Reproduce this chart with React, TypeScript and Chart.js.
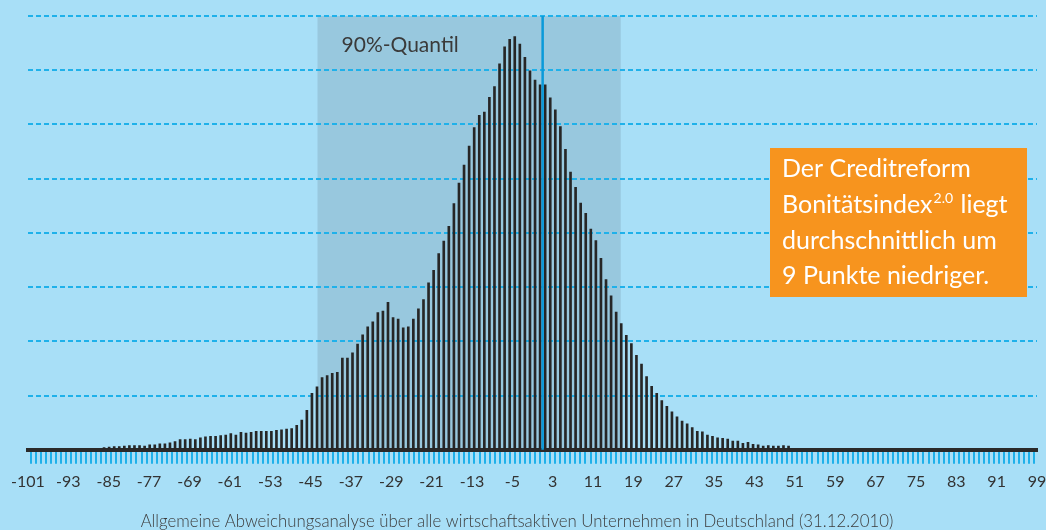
import React, { useEffect, useRef } from "react";
import { Chart, registerables } from "chart.js";

Chart.register(...registerables);

// Deviation categories of the bars start here (one bar per point)
const FIRST_CATEGORY = -86;
const BAR_VALUES = [
  0.04, 0.05, 0.06, 0.06, 0.07, 0.08, 0.08, 0.08, 0.07, 0.09,
  0.09, 0.11, 0.11, 0.13, 0.15, 0.19, 0.19, 0.2, 0.19, 0.22,
  0.24, 0.25, 0.25, 0.26, 0.27, 0.3, 0.27, 0.32, 0.31, 0.32,
  0.34, 0.34, 0.34, 0.34, 0.36, 0.37, 0.38, 0.39, 0.45, 0.55,
  0.73, 1.04, 1.16, 1.33, 1.37, 1.41, 1.43, 1.69, 1.69, 1.79,
  1.95, 2.12, 2.27, 2.36, 2.53, 2.56, 2.72, 2.44, 2.41, 2.25,
  2.27, 2.41, 2.6, 2.77, 3.08, 3.31, 3.62, 3.85, 4.12, 4.54,
  4.92, 5.25, 5.6, 5.94, 6.17, 6.23, 6.5, 6.7, 7.12, 7.43,
  7.57, 7.62, 7.48, 7.24, 6.99, 6.82, 6.73, 6.73, 6.49, 6.27,
  5.96, 5.54, 5.12, 4.84, 4.55, 4.36, 4.07, 3.86, 3.53, 3.14,
  2.84, 2.54, 2.33, 2.11, 1.96, 1.74, 1.58, 1.35, 1.17, 1.04,
  0.91, 0.8, 0.7, 0.61, 0.53, 0.48, 0.41, 0.34, 0.33, 0.27,
  0.25, 0.22, 0.21, 0.2, 0.16, 0.16, 0.12, 0.14, 0.1, 0.09,
  0.07, 0.08, 0.07, 0.07, 0.08, 0.07,
];
const TICK_LABELS = [
  -101, -93, -85, -77, -69, -61, -53, -45, -37, -29, -21, -13, -5,
  3, 11, 19, 27, 35, 43, 51, 59, 67, 75, 83, 91, 99,
];
const QUANTILE_RANGE = [-43.9, 15.9];
const MEAN_LINE = 0.5;
const QUANTILE_LABEL = "90%-Quantil";
const BOX_LINES = ["Der Creditreform", "Bonitätsindex", "durchschnittlich um", "9 Punkte niedriger."];
const CAPTION =
  "Allgemeine Abweichungsanalyse über alle wirtschaftsaktiven Unternehmen in Deutschland (31.12.2010)";

const FONT = "Lato, 'Open Sans', sans-serif";
const BG = "#a8dff7";
const SHADE = "#98c8de";
const GRID = "#1fb1ea";

const decorPlugin = {
  id: "decor",
  beforeDraw(chart: any) {
    const { ctx, width, height, scales } = chart;
    ctx.save();
    ctx.fillStyle = BG;
    ctx.fillRect(0, 0, width, height);
    const xb = scales.xb;
    const y = scales.y;
    const x0 = xb.getPixelForValue(QUANTILE_RANGE[0]);
    const x1 = xb.getPixelForValue(QUANTILE_RANGE[1]);
    const yt = y.getPixelForValue(8);
    const y0 = y.getPixelForValue(0);
    ctx.fillStyle = SHADE;
    ctx.fillRect(x0, yt, x1 - x0, y0 - yt);
    ctx.restore();
  },
  afterDatasetsDraw(chart: any) {
    const { ctx, scales } = chart;
    const xb = scales.xb;
    const y = scales.y;
    ctx.save();
    // mean line
    const mx = xb.getPixelForValue(MEAN_LINE);
    ctx.strokeStyle = "#0a9ad9";
    ctx.lineWidth = 2.5;
    ctx.beginPath();
    ctx.moveTo(mx, y.getPixelForValue(8));
    ctx.lineTo(mx, y.getPixelForValue(0));
    ctx.stroke();

    // quantile label
    ctx.fillStyle = "#3a3a3a";
    ctx.font = `21px ${FONT}`;
    ctx.textAlign = "left";
    ctx.textBaseline = "alphabetic";
    ctx.fillText(QUANTILE_LABEL, xb.getPixelForValue(QUANTILE_RANGE[0]) + 24, 52);

    // orange box
    const bx = 770, by = 148, bw = 257, bh = 149;
    ctx.fillStyle = "#f7941e";
    ctx.fillRect(bx, by, bw, bh);
    ctx.fillStyle = "#ffffff";
    ctx.font = `25px ${FONT}`;
    const tx = 782;
    const baselines = [177, 213, 248.5, 284];
    ctx.fillText(BOX_LINES[0], tx, baselines[0]);
    ctx.fillText(BOX_LINES[1], tx, baselines[1]);
    const w1 = ctx.measureText(BOX_LINES[1]).width;
    ctx.font = `14px ${FONT}`;
    ctx.fillText("2.0", tx + w1 + 1, baselines[1] - 10);
    const w2 = ctx.measureText("2.0").width;
    ctx.font = `25px ${FONT}`;
    ctx.fillText(" liegt", tx + w1 + w2 + 2, baselines[1]);
    ctx.fillText(BOX_LINES[2], tx, baselines[2]);
    ctx.fillText(BOX_LINES[3], tx, baselines[3]);

    // caption
    ctx.fillStyle = "#3c3c3c";
    ctx.font = `300 16.8px ${FONT}`;
    ctx.textAlign = "center";
    ctx.fillText(CAPTION, 517, 527);
    ctx.restore();
  },
};

export default function App() {
  const canvasRef = useRef<HTMLCanvasElement | null>(null);

  useEffect(() => {
    if (!canvasRef.current) return;
    const data = BAR_VALUES.map((v, i) => ({ x: FIRST_CATEGORY + i, y: v }));
    const chart = new Chart(canvasRef.current, {
      type: "bar",
      data: {
        datasets: [
          {
            data: data as any,
            xAxisID: "xb",
            yAxisID: "y",
            backgroundColor: "#262626",
            barThickness: 2,
            borderWidth: 0,
          },
        ],
      },
      options: {
        animation: false,
        responsive: false,
        layout: { padding: { left: 28, right: 9, top: 16, bottom: 31 } },
        plugins: {
          legend: { display: false },
          tooltip: { enabled: false },
          title: { display: false },
        },
        scales: {
          xb: {
            type: "linear",
            min: -101,
            max: 98,
            display: false,
            offset: false,
          },
          x: {
            type: "linear",
            position: "bottom",
            min: -101,
            max: 99,
            offset: false,
            afterFit: (scale: any) => {
              scale.paddingLeft = 0;
              scale.paddingRight = 0;
            },
            ticks: {
              stepSize: 1,
              autoSkip: false,
              maxRotation: 0,
              minRotation: 0,
              padding: 8,
              color: "#333333",
              font: { family: FONT, size: 16 },
              callback: (value: any) =>
                TICK_LABELS.includes(Math.round(Number(value))) ? String(Math.round(Number(value))) : "",
            },
            grid: {
              display: true,
              drawOnChartArea: false,
              drawTicks: true,
              tickLength: 14,
              color: GRID,
              lineWidth: 2,
            },
            border: { display: true, color: "#2a2a2a", width: 4 },
          },
          y: {
            type: "linear",
            min: 0,
            max: 8,
            ticks: { display: false, stepSize: 1 },
            grid: {
              drawTicks: false,
              color: (c: any) => (c.tick && c.tick.value === 0 ? "rgba(0,0,0,0)" : GRID),
              lineWidth: 2,
            },
            border: { display: false, dash: [5, 3] },
          },
        },
      },
      plugins: [decorPlugin],
    });
    return () => chart.destroy();
  }, []);

  return (
    <div style={{ position: "fixed", left: 0, top: 0, width: 1046, height: 530 }}>
      <canvas ref={canvasRef} width={1046} height={530} style={{ display: "block" }} />
    </div>
  );
}
